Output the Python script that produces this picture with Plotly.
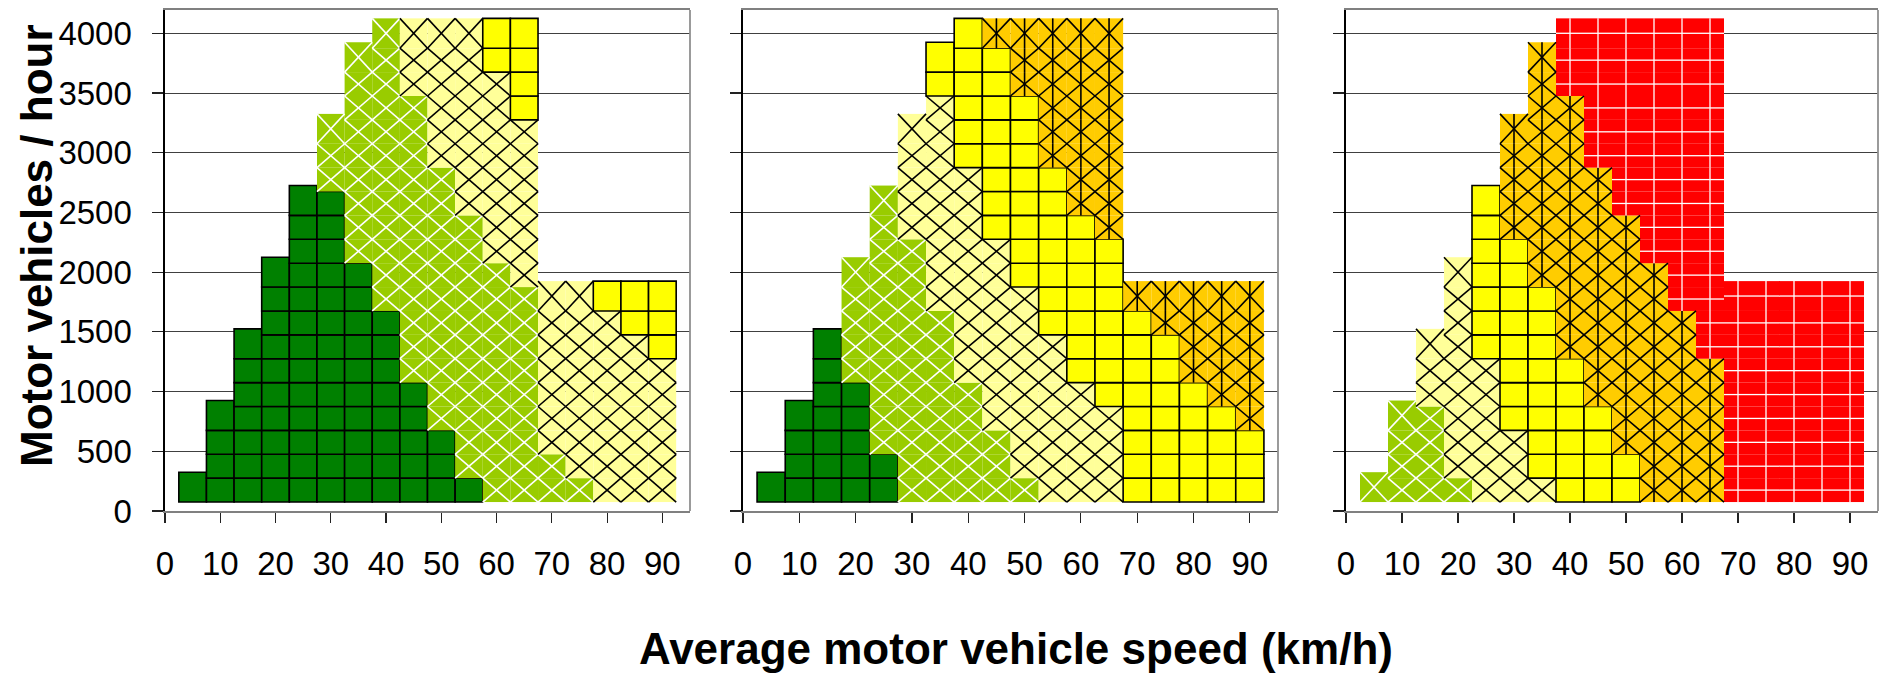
import plotly.graph_objects as go

# ---------------- data ----------------
speeds = [5, 10, 15, 20, 25, 30, 35, 40, 45, 50, 55, 60, 65, 70, 75, 80, 85, 90]

# runs of flow cells per speed column, from bottom to top: (category, number of cells)
panel1_cells = [
    [("DG", 1)],
    [("DG", 4)],
    [("DG", 7)],
    [("DG", 10)],
    [("DG", 13)],
    [("DG", 13), ("LG", 3)],
    [("DG", 10), ("LG", 9)],
    [("DG", 8), ("LG", 12)],
    [("DG", 5), ("LG", 12), ("LY", 3)],
    [("DG", 3), ("LG", 11), ("LY", 6)],
    [("DG", 1), ("LG", 11), ("LY", 8)],
    [("LG", 10), ("LY", 8), ("Y", 2)],
    [("LG", 9), ("LY", 7), ("Y", 4)],
    [("LG", 2), ("LY", 7)],
    [("LG", 1), ("LY", 8)],
    [("LY", 8), ("Y", 1)],
    [("LY", 7), ("Y", 2)],
    [("LY", 6), ("Y", 3)],
]
panel2_cells = [
    [("DG", 1)],
    [("DG", 4)],
    [("DG", 7)],
    [("DG", 5), ("LG", 5)],
    [("DG", 2), ("LG", 11)],
    [("LG", 11), ("LY", 5)],
    [("LG", 8), ("LY", 9), ("Y", 2)],
    [("LG", 5), ("LY", 9), ("Y", 6)],
    [("LG", 3), ("LY", 8), ("Y", 8), ("O", 1)],
    [("LG", 1), ("LY", 8), ("Y", 8), ("O", 3)],
    [("LY", 7), ("Y", 7), ("O", 6)],
    [("LY", 5), ("Y", 7), ("O", 8)],
    [("LY", 4), ("Y", 7), ("O", 9)],
    [("Y", 8), ("O", 1)],
    [("Y", 7), ("O", 2)],
    [("Y", 5), ("O", 4)],
    [("Y", 4), ("O", 5)],
    [("Y", 3), ("O", 6)],
]
panel3_cells = [
    [("LG", 1)],
    [("LG", 4)],
    [("LG", 4), ("LY", 3)],
    [("LG", 1), ("LY", 9)],
    [("LY", 6), ("Y", 7)],
    [("LY", 3), ("Y", 8), ("O", 5)],
    [("LY", 1), ("Y", 8), ("O", 10)],
    [("Y", 6), ("O", 11), ("R", 3)],
    [("Y", 4), ("O", 10), ("R", 6)],
    [("Y", 2), ("O", 10), ("R", 8)],
    [("O", 10), ("R", 10)],
    [("O", 8), ("R", 12)],
    [("O", 6), ("R", 14)],
    [("R", 9)],
    [("R", 9)],
    [("R", 9)],
    [("R", 9)],
    [("R", 9)],
]

# flow bins (veh/h)
flow_start = 75
flow_step = 200
top_extra = 50
speed_step = 5

y_ticks = [0, 500, 1000, 1500, 2000, 2500, 3000, 3500, 4000]
x_ticks = [0, 10, 20, 30, 40, 50, 60, 70, 80, 90]

# ---------------- styles ----------------
fill = {"DG": "#008000", "LG": "#99CC00", "LY": "#FFFF99",
        "Y": "#FFFF00", "O": "#FFCC00", "R": "#FF0000"}
border = {"DG": ("black", 1.6), "Y": ("black", 1.6)}
W, H = 1879, 673
FONT = "Liberation Sans, Arial, sans-serif"

panels = [panel1_cells, panel2_cells, panel3_cells]
domains = [(165 / W, 690 / W), (743 / W, 1278 / W), (1346 / W, 1878 / W)]

fig = go.Figure()

for p, cells in enumerate(panels):
    xa = "x" if p == 0 else f"x{p + 1}"
    ya = "y" if p == 0 else f"y{p + 1}"
    boxes = {c: [] for c in fill}
    for x, runs in zip(speeds, cells):
        total = sum(n for _, n in runs)
        r = 0
        for cat, n in runs:
            for _ in range(n):
                lo = flow_start + flow_step * r
                hi = lo + flow_step + (top_extra if r == total - 1 else 0)
                boxes[cat].append((x, lo, hi))
                r += 1
    # bars
    for cat, lst in boxes.items():
        if not lst:
            continue
        lc, lw = border.get(cat, (fill[cat], 0))
        fig.add_trace(go.Bar(
            x=[b[0] for b in lst], y=[b[2] - b[1] for b in lst], base=[b[1] for b in lst],
            width=speed_step, marker=dict(color=fill[cat], line=dict(color=lc, width=lw)),
            xaxis=xa, yaxis=ya, showlegend=False, hoverinfo="skip"))
    # hatch lines
    hatch = {"LG": ("white", 1.6, True, False, False), "LY": ("black", 1.6, True, False, False),
             "O": ("black", 1.6, True, True, False), "R": ("#ffffff", 1.3, False, True, True)}
    for cat, (col, w, diag, vert, horiz) in hatch.items():
        xs, ys = [], []
        for x, lo, hi in boxes[cat]:
            x0, x1 = x - speed_step / 2, x + speed_step / 2
            if diag:
                xs += [x0, x1, None, x0, x1, None]
                ys += [lo, hi, None, hi, lo, None]
            if vert:
                xs += [x, x, None]
                ys += [lo, hi, None]
            if horiz:
                m = (lo + hi) / 2
                xs += [x0, x1, None]
                ys += [m, m, None]
        if xs:
            fig.add_trace(go.Scatter(x=xs, y=ys, mode="lines",
                                     line=dict(color=col, width=w),
                                     xaxis=xa, yaxis=ya, showlegend=False,
                                     hoverinfo="skip", connectgaps=False))

layout = dict(
    width=W, height=H, margin=dict(l=0, r=0, t=10, b=162),
    paper_bgcolor="white", plot_bgcolor="white", barmode="overlay",
    font=dict(family=FONT, color="black"),
)
for p in range(3):
    sx = "" if p == 0 else str(p + 1)
    layout[f"xaxis{sx}"] = dict(
        domain=list(domains[p]), anchor=f"y{sx}", range=[0, 95],
        tickmode="array", tickvals=x_ticks, ticks="outside", ticklen=10,
        tickwidth=1.2, tickcolor="#222", showline=True, linecolor="#808080",
        linewidth=1.6, mirror=True, showgrid=False, zeroline=False,
        tickfont=dict(size=33, color="black", family=FONT),
        ticklabelstandoff=13, automargin=False, fixedrange=True)
    layout[f"yaxis{sx}"] = dict(
        domain=[0, 1], anchor=f"x{sx}", range=[0, 4195],
        tickmode="array", tickvals=y_ticks, ticks="outside", ticklen=11,
        tickwidth=1.2, tickcolor="#222", showticklabels=(p == 0),
        showgrid=True, gridcolor="#404040", gridwidth=1,
        showline=True, linecolor="black", linewidth=1.6, zeroline=False,
        tickfont=dict(size=33, color="black", family=FONT),
        ticklabelstandoff=14, automargin=False, fixedrange=True)

fig.update_layout(**layout)

shapes = []
for p in range(3):
    sx = "" if p == 0 else str(p + 1)
    shapes.append(dict(type="line", xref=f"x{sx} domain", yref=f"y{sx} domain",
                       x0=1, x1=1, y0=0, y1=1,
                       line=dict(color="#909090", width=1.8)))
fig.update_layout(shapes=shapes)

fig.add_annotation(text="<b>Average motor vehicle speed (km/h)</b>",
                   xref="paper", yref="paper", x=1016 / W, y=(511 - 648) / 501,
                   xanchor="center", yanchor="middle", showarrow=False,
                   font=dict(size=44, family=FONT, color="black"))
fig.add_annotation(text="<b>Motor vehicles / hour</b>", textangle=-90,
                   xref="paper", yref="paper", x=36 / W, y=(511 - 246) / 501,
                   xanchor="center", yanchor="middle", showarrow=False,
                   font=dict(size=44, family=FONT, color="black"))

fig.write_html("out.html",
               config={"displayModeBar": False, "staticPlot": True},
               post_script="document.body.style.margin='0px';"
                           "document.body.style.overflow='hidden';")
